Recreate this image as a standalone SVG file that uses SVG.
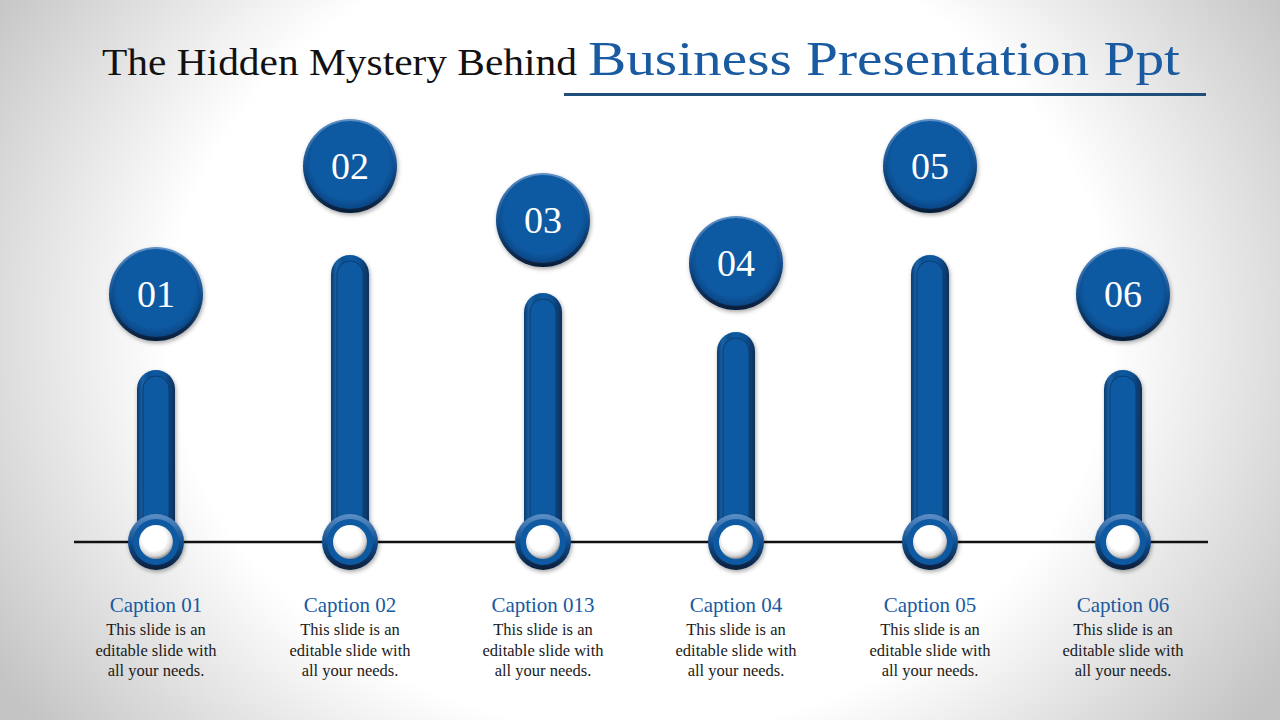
<svg xmlns="http://www.w3.org/2000/svg" width="1280" height="720" viewBox="0 0 1280 720">
<defs>
<radialGradient id="bg" cx="640" cy="330" r="760" gradientUnits="userSpaceOnUse" gradientTransform="translate(640 330) scale(1 0.85) translate(-640 -330)">
<stop offset="0.62" stop-color="#ffffff"/>
<stop offset="1" stop-color="#c4c4c4"/>
</radialGradient>
<linearGradient id="bar" x1="0" y1="0" x2="1" y2="0">
<stop offset="0" stop-color="#0a3d70"/>
<stop offset="0.15" stop-color="#1a62a8"/>
<stop offset="0.3" stop-color="#0d4f92"/>
<stop offset="0.5" stop-color="#0e5aa2"/>
<stop offset="0.75" stop-color="#0d4f92"/>
<stop offset="1" stop-color="#082f58"/>
</linearGradient>
<radialGradient id="disc" cx="0.5" cy="0.45" r="0.55">
<stop offset="0.8" stop-color="#0e5aa2"/>
<stop offset="1" stop-color="#0a4584"/>
</radialGradient>
<linearGradient id="rim" x1="0" y1="0" x2="0" y2="1">
<stop offset="0" stop-color="#5d90c8"/>
<stop offset="0.5" stop-color="#124f90"/>
<stop offset="1" stop-color="#061d38"/>
</linearGradient>
<radialGradient id="hole" cx="0.45" cy="0.4" r="0.6">
<stop offset="0.6" stop-color="#ffffff"/>
<stop offset="0.85" stop-color="#d8d8d8"/>
<stop offset="1" stop-color="#8a8a8a"/>
</radialGradient>
<filter id="sh" x="-30%" y="-30%" width="160%" height="160%">
<feDropShadow dx="1" dy="2" stdDeviation="2" flood-color="#000" flood-opacity="0.35"/>
</filter>
</defs>
<style>
.cap{font-family:"Liberation Serif",serif;font-size:21px;fill:#1a5aa0;text-anchor:middle}
.body{font-family:"Liberation Serif",serif;font-size:16.5px;fill:#1a1a1a;text-anchor:middle}
.num{font-family:"Liberation Serif",serif;font-size:38px;fill:#ffffff;text-anchor:middle}
</style>
<rect width="1280" height="720" fill="url(#bg)"/>
<g id="title">
<text x="102" y="75" font-family="Liberation Serif, serif" font-size="37" fill="#111" textLength="475" lengthAdjust="spacingAndGlyphs">The Hidden Mystery Behind</text>
<text x="588" y="75" font-family="Liberation Serif, serif" font-size="48" fill="#1a5aa0" textLength="592" lengthAdjust="spacingAndGlyphs">Business Presentation Ppt</text>
<rect x="564" y="93" width="642" height="3" fill="#1f4e79"/>
</g>
<g id="connectors">
<line x1="74" y1="542" x2="1208" y2="542" stroke="#111" stroke-width="2.5"/>
</g>
<g id="node1">
<rect x="137" y="370" width="38" height="175" rx="19" fill="url(#bar)" filter="url(#sh)"/>
<rect x="143" y="376" width="26" height="170" rx="13" fill="#0e5aa2" stroke="#0a3d70" stroke-width="1"/>
<circle cx="156" cy="542" r="28" fill="url(#rim)" filter="url(#sh)"/>
<circle cx="156" cy="542" r="23" fill="#0e5aa2"/>
<circle cx="156" cy="542" r="17" fill="url(#hole)"/>
<circle cx="156" cy="294" r="47" fill="url(#rim)" filter="url(#sh)"/>
<circle cx="156" cy="293" r="44" fill="url(#disc)"/>
<text class="num" x="156" y="307">01</text>
<text class="cap" x="156" y="612">Caption 01</text>
<text class="body" x="156" y="635">This slide is an</text>
<text class="body" x="156" y="656">editable slide with</text>
<text class="body" x="156" y="676">all your needs.</text>
</g>
<g id="node2">
<rect x="331" y="255" width="38" height="290" rx="19" fill="url(#bar)" filter="url(#sh)"/>
<rect x="337" y="261" width="26" height="285" rx="13" fill="#0e5aa2" stroke="#0a3d70" stroke-width="1"/>
<circle cx="350" cy="542" r="28" fill="url(#rim)" filter="url(#sh)"/>
<circle cx="350" cy="542" r="23" fill="#0e5aa2"/>
<circle cx="350" cy="542" r="17" fill="url(#hole)"/>
<circle cx="350" cy="166" r="47" fill="url(#rim)" filter="url(#sh)"/>
<circle cx="350" cy="165" r="44" fill="url(#disc)"/>
<text class="num" x="350" y="179">02</text>
<text class="cap" x="350" y="612">Caption 02</text>
<text class="body" x="350" y="635">This slide is an</text>
<text class="body" x="350" y="656">editable slide with</text>
<text class="body" x="350" y="676">all your needs.</text>
</g>
<g id="node3">
<rect x="524" y="293" width="38" height="252" rx="19" fill="url(#bar)" filter="url(#sh)"/>
<rect x="530" y="299" width="26" height="247" rx="13" fill="#0e5aa2" stroke="#0a3d70" stroke-width="1"/>
<circle cx="543" cy="542" r="28" fill="url(#rim)" filter="url(#sh)"/>
<circle cx="543" cy="542" r="23" fill="#0e5aa2"/>
<circle cx="543" cy="542" r="17" fill="url(#hole)"/>
<circle cx="543" cy="220" r="47" fill="url(#rim)" filter="url(#sh)"/>
<circle cx="543" cy="219" r="44" fill="url(#disc)"/>
<text class="num" x="543" y="233">03</text>
<text class="cap" x="543" y="612">Caption 013</text>
<text class="body" x="543" y="635">This slide is an</text>
<text class="body" x="543" y="656">editable slide with</text>
<text class="body" x="543" y="676">all your needs.</text>
</g>
<g id="node4">
<rect x="717" y="332" width="38" height="213" rx="19" fill="url(#bar)" filter="url(#sh)"/>
<rect x="723" y="338" width="26" height="208" rx="13" fill="#0e5aa2" stroke="#0a3d70" stroke-width="1"/>
<circle cx="736" cy="542" r="28" fill="url(#rim)" filter="url(#sh)"/>
<circle cx="736" cy="542" r="23" fill="#0e5aa2"/>
<circle cx="736" cy="542" r="17" fill="url(#hole)"/>
<circle cx="736" cy="263" r="47" fill="url(#rim)" filter="url(#sh)"/>
<circle cx="736" cy="262" r="44" fill="url(#disc)"/>
<text class="num" x="736" y="276">04</text>
<text class="cap" x="736" y="612">Caption 04</text>
<text class="body" x="736" y="635">This slide is an</text>
<text class="body" x="736" y="656">editable slide with</text>
<text class="body" x="736" y="676">all your needs.</text>
</g>
<g id="node5">
<rect x="911" y="255" width="38" height="290" rx="19" fill="url(#bar)" filter="url(#sh)"/>
<rect x="917" y="261" width="26" height="285" rx="13" fill="#0e5aa2" stroke="#0a3d70" stroke-width="1"/>
<circle cx="930" cy="542" r="28" fill="url(#rim)" filter="url(#sh)"/>
<circle cx="930" cy="542" r="23" fill="#0e5aa2"/>
<circle cx="930" cy="542" r="17" fill="url(#hole)"/>
<circle cx="930" cy="166" r="47" fill="url(#rim)" filter="url(#sh)"/>
<circle cx="930" cy="165" r="44" fill="url(#disc)"/>
<text class="num" x="930" y="179">05</text>
<text class="cap" x="930" y="612">Caption 05</text>
<text class="body" x="930" y="635">This slide is an</text>
<text class="body" x="930" y="656">editable slide with</text>
<text class="body" x="930" y="676">all your needs.</text>
</g>
<g id="node6">
<rect x="1104" y="370" width="38" height="175" rx="19" fill="url(#bar)" filter="url(#sh)"/>
<rect x="1110" y="376" width="26" height="170" rx="13" fill="#0e5aa2" stroke="#0a3d70" stroke-width="1"/>
<circle cx="1123" cy="542" r="28" fill="url(#rim)" filter="url(#sh)"/>
<circle cx="1123" cy="542" r="23" fill="#0e5aa2"/>
<circle cx="1123" cy="542" r="17" fill="url(#hole)"/>
<circle cx="1123" cy="294" r="47" fill="url(#rim)" filter="url(#sh)"/>
<circle cx="1123" cy="293" r="44" fill="url(#disc)"/>
<text class="num" x="1123" y="307">06</text>
<text class="cap" x="1123" y="612">Caption 06</text>
<text class="body" x="1123" y="635">This slide is an</text>
<text class="body" x="1123" y="656">editable slide with</text>
<text class="body" x="1123" y="676">all your needs.</text>
</g>
</svg>
